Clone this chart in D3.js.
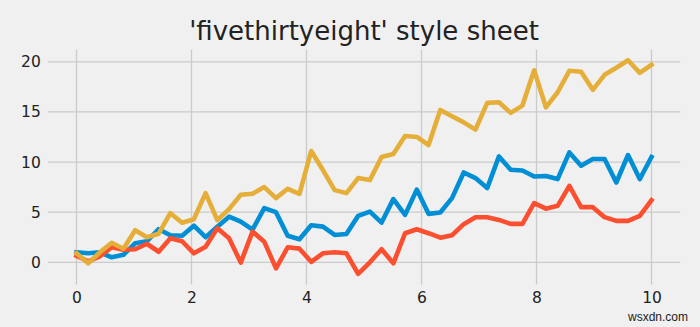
<!DOCTYPE html>
<html>
<head>
<meta charset="utf-8">
<script src="https://cdn.jsdelivr.net/npm/d3@7"></script>
<style>
  html, body { margin: 0; padding: 0; background: #f0f0f0; }
  svg { display: block; }
</style>
</head>
<body>
<svg id="chart" width="700" height="327"></svg>
<script>
// ---- data ----
const titleText = "'fivethirtyeight' style sheet";
const xTicks = [0, 2, 4, 6, 8, 10];
const yTicks = [0, 5, 10, 15, 20];
const nPoints = 50;
const xValues = d3.range(nPoints).map(i => i * 10 / (nPoints - 1));

const blueValues = [1.0, 0.9, 1.0, 0.5, 0.75, 1.9, 2.1, 3.3, 2.7, 2.65,
  3.65, 2.5, 3.55, 4.55, 4.05, 3.25, 5.4, 5.0, 2.65, 2.3,
  3.7, 3.56, 2.73, 2.83, 4.63, 5.06, 3.96, 6.3, 4.73, 7.25,
  4.83, 4.96, 6.4, 8.96, 8.4, 7.4, 10.56, 9.23, 9.16, 8.56,
  8.6, 8.3, 10.96, 9.63, 10.3, 10.3, 7.96, 10.7, 8.3, 10.5];

const redValues = [0.65, 0.1, 0.6, 1.5, 1.25, 1.3, 1.85, 1.05, 2.4, 2.1,
  0.9, 1.56, 3.4, 2.4, -0.03, 3.06, 2.06, -0.6, 1.5, 1.36,
  0.05, 0.9, 1.0, 0.9, -1.15, 0.0, 1.3, -0.1, 2.9, 3.3,
  2.9, 2.46, 2.7, 3.8, 4.5, 4.5, 4.23, 3.83, 3.83, 5.9,
  5.35, 5.63, 7.63, 5.5, 5.5, 4.5, 4.13, 4.13, 4.63, 6.2];

const yellowValues = [0.9, -0.1, 1.0, 1.95, 1.35, 3.2, 2.5, 2.85, 4.9, 3.95,
  4.3, 6.9, 4.2, 5.3, 6.73, 6.83, 7.5, 6.4, 7.33, 6.83,
  11.1, 9.2, 7.2, 6.9, 8.4, 8.2, 10.5, 10.8, 12.6, 12.5,
  11.7, 15.2, 14.56, 13.96, 13.23, 15.9, 15.96, 14.9, 15.63, 19.15,
  15.46, 16.96, 19.1, 19.0, 17.2, 18.7, 19.4, 20.15, 18.9, 19.7];

const seriesList = [blueValues, redValues, yellowValues];
const seriesColors = ["#008fd5", "#fc4f30", "#e5ae38"];

// ---- layout ----
const svg = d3.select("#chart");
const W = 700, H = 327;
const plot = { left: 47.75, right: 680.25, top: 49.6, bottom: 284.5 };

svg.append("rect").attr("width", W).attr("height", H).attr("fill", "#f0f0f0");

const xExt = d3.extent(xValues);
const xPad = (xExt[1] - xExt[0]) * 0.05;
const x = d3.scaleLinear().domain([xExt[0] - xPad, xExt[1] + xPad]).range([plot.left, plot.right]);

const allY = seriesList.flat();
const yExt = d3.extent(allY);
const yPad = (yExt[1] - yExt[0]) * 0.05;
const y = d3.scaleLinear().domain([yExt[0] - yPad, yExt[1] + yPad]).range([plot.bottom, plot.top]);

// grid
const grid = svg.append("g");
grid.selectAll("line.h").data(yTicks).join("line")
  .attr("x1", plot.left).attr("x2", plot.right)
  .attr("y1", d => y(d)).attr("y2", d => y(d))
  .attr("stroke", "#cbcbcb").attr("stroke-width", 1.3);
grid.selectAll("line.v").data(xTicks).join("line")
  .attr("y1", plot.top).attr("y2", plot.bottom)
  .attr("x1", d => x(d)).attr("x2", d => x(d))
  .attr("stroke", "#cbcbcb").attr("stroke-width", 1.3);

// axes (labels only)
const font = "'DejaVu Sans', sans-serif";
const xAxis = svg.append("g").attr("transform", `translate(0,${plot.bottom})`)
  .call(d3.axisBottom(x).tickValues(xTicks).tickSize(0).tickPadding(7).tickFormat(d3.format("d")));
const yAxis = svg.append("g").attr("transform", `translate(${plot.left},0)`)
  .call(d3.axisLeft(y).tickValues(yTicks).tickSize(0).tickPadding(7).tickFormat(d3.format("d")));
[xAxis, yAxis].forEach(a => {
  a.select(".domain").remove();
  a.selectAll("text").attr("font-family", font).attr("font-size", 15.5).attr("fill", "#222");
});

// lines
const line = d3.line().x((d, i) => x(xValues[i])).y(d => y(d));
svg.append("g").selectAll("path").data(seriesList).join("path")
  .attr("d", d => line(d))
  .attr("fill", "none")
  .attr("stroke", (d, i) => seriesColors[i])
  .attr("stroke-width", 4.6)
  .attr("stroke-linejoin", "round")
  .attr("stroke-linecap", "square");

// title
svg.append("text")
  .attr("x", (plot.left + plot.right) / 2).attr("y", 39.5)
  .attr("text-anchor", "middle")
  .attr("font-family", font).attr("font-size", 26).attr("fill", "#222")
  .text(titleText);

// watermark
svg.append("text")
  .attr("x", 688).attr("y", 321).attr("text-anchor", "end")
  .attr("font-family", "'Liberation Sans', sans-serif").attr("font-size", 12).attr("fill", "#222")
  .text("wsxdn.com");
</script>
</body>
</html>
